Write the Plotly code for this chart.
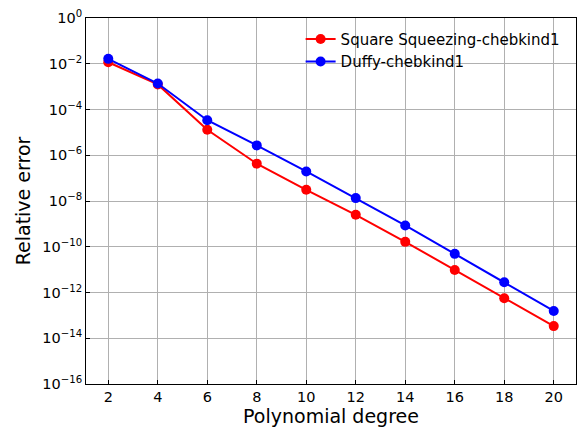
import plotly.graph_objects as go

degrees = [2, 4, 6, 8, 10, 12, 14, 16, 18, 20]
square_squeezing = [1.16e-2, 1.25e-3, 1.3e-5, 4.3e-7, 3.1e-8, 2.5e-9, 1.64e-10, 9.7e-12, 5.6e-13, 3.4e-14]
duffy = [1.64e-2, 1.36e-3, 3.4e-5, 2.7e-6, 1.96e-7, 1.34e-8, 8.5e-10, 4.9e-11, 2.8e-12, 1.56e-13]

y_exps = [0, -2, -4, -6, -8, -10, -12, -14, -16]
y_tickvals = [10.0 ** e for e in y_exps]
y_ticktext = ["10<sup>%s</sup>" % (str(e).replace("-", "\u2212")) for e in y_exps]

fig = go.Figure()
fig.add_trace(go.Scatter(x=degrees, y=square_squeezing, mode="lines+markers",
                         name="Square Squeezing-chebkind1",
                         line=dict(color="#ff0000", width=2),
                         marker=dict(color="#ff0000", size=10)))
fig.add_trace(go.Scatter(x=degrees, y=duffy, mode="lines+markers",
                         name="Duffy-chebkind1",
                         line=dict(color="#0000ff", width=2),
                         marker=dict(color="#0000ff", size=10)))

font_family = "DejaVu Sans"
fig.update_layout(
    width=577, height=430,
    margin=dict(l=86, r=1, t=18, b=46),
    paper_bgcolor="white", plot_bgcolor="white",
    font=dict(family=font_family, color="black", size=14),
    showlegend=True,
    legend=dict(x=0.438, y=0.987, xanchor="left", yanchor="top",
                bgcolor="rgba(255,255,255,0)", font=dict(size=15),
                tracegroupgap=0, itemwidth=30),
    xaxis=dict(
        range=[1.1, 20.9], tickvals=degrees, ticks="inside", ticklen=4,
        tickcolor="black", showgrid=True, gridcolor="#b0b0b0", gridwidth=1,
        showline=True, linecolor="black", linewidth=1, mirror=True,
        zeroline=False, tickfont=dict(size=14.5),
        title=dict(text="Polynomial degree", font=dict(size=19), standoff=4),
    ),
    yaxis=dict(
        type="log", range=[-16, 0], tickvals=y_tickvals, ticktext=y_ticktext,
        ticks="inside", ticklen=4, tickcolor="black",
        showgrid=True, gridcolor="#b0b0b0", gridwidth=1,
        showline=True, linecolor="black", linewidth=1, mirror=True,
        zeroline=False, tickfont=dict(size=14.5),
        title=dict(text="Relative error", font=dict(size=19), standoff=6),
    ),
)

fig.write_html("out.html")
